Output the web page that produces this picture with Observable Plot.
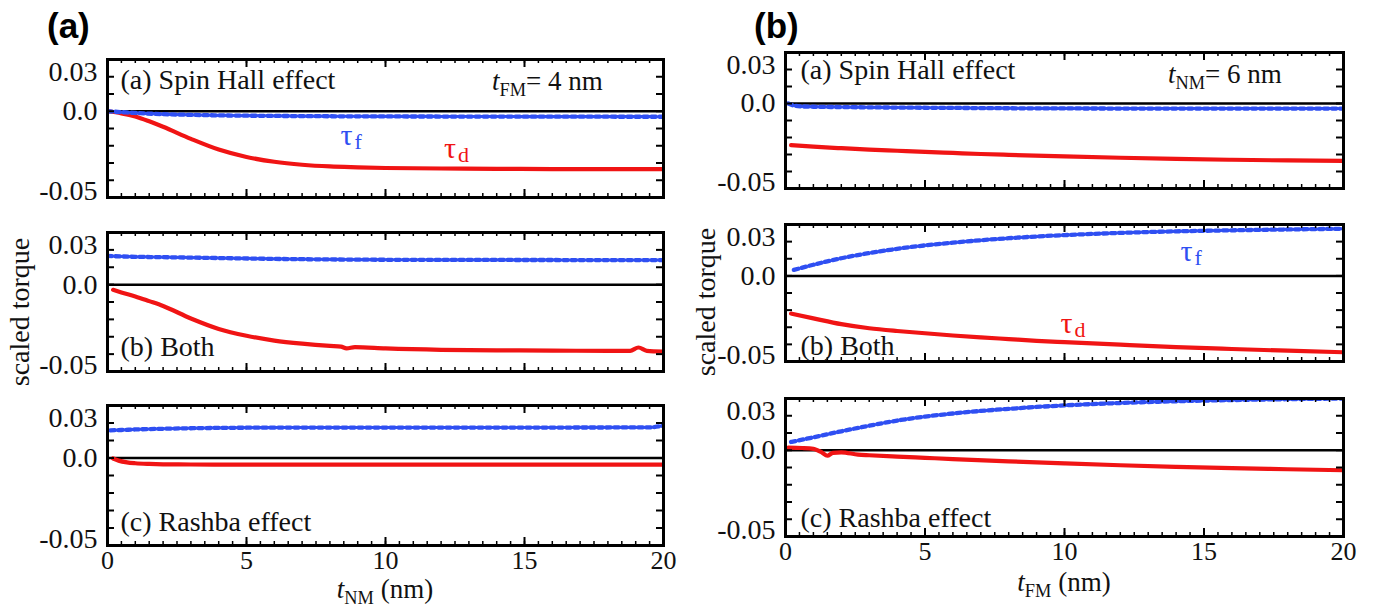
<!DOCTYPE html>
<html><head><meta charset="utf-8">
<script src="https://cdn.jsdelivr.net/npm/d3@7"></script>
<script src="https://cdn.jsdelivr.net/npm/@observablehq/plot@0.6"></script>
<style>
html,body{margin:0;padding:0;background:#fff;}
#root{position:relative;width:1380px;height:612px;overflow:hidden;background:#fff;}
</style></head>
<body><div id="root"></div>
<script>
// ---------------- DATA ----------------
// Panel (a): t_FM = 4 nm, x = t_NM (nm)
const aSheDX = [0,0.5,1,1.5,2,3,4,5,6,7,8,9,10,12,14,16,18,20];
const aSheD  = [0,-0.0012,-0.003,-0.0058,-0.009,-0.016,-0.0222,-0.0265,-0.0293,-0.031,-0.032,-0.0325,-0.0329,-0.0332,-0.0334,-0.0335,-0.0335,-0.0335];
const aSheFX = [0,0.5,1,2,3,4,6,8,10,14,20];
const aSheF  = [0,-0.0005,-0.001,-0.0017,-0.0021,-0.0024,-0.0027,-0.0029,-0.003,-0.0031,-0.0032];

const aBothDX = [0.2,0.5,1,1.5,2,3,4,5,6,7,8,8.4,8.6,8.9,10,12,14,16,18,18.8,19.1,19.4,20];
const aBothD  = [-0.003,-0.0045,-0.0068,-0.0095,-0.0123,-0.0195,-0.0255,-0.0294,-0.0322,-0.0340,-0.0353,-0.0357,-0.0367,-0.0360,-0.0367,-0.0375,-0.0378,-0.0380,-0.0381,-0.0381,-0.0362,-0.0381,-0.0385];
const aBothFX = [0,1,2,4,6,8,10,14,20];
const aBothF  = [0.0165,0.0160,0.0158,0.0153,0.0148,0.0145,0.0143,0.0142,0.0141];

const aRashDX = [0.2,0.4,0.7,1,1.5,2,3,5,8,12,16,20];
const aRashD  = [-0.0003,-0.0015,-0.0025,-0.003,-0.0034,-0.0036,-0.0037,-0.0038,-0.0038,-0.0038,-0.0038,-0.0038];
const aRashFX = [0.1,0.5,1,2,3,5,8,10,15,19.5,20];
const aRashF  = [0.0158,0.0160,0.0163,0.0167,0.0170,0.0173,0.0174,0.0174,0.0174,0.0175,0.0185];

// Panel (b): t_NM = 6 nm, x = t_FM (nm)
const bSheDX = [0.2,1,2,3,4,5,6,7,8,10,12,14,16,18,20];
const bSheD  = [-0.0245,-0.0254,-0.0263,-0.0271,-0.0278,-0.0285,-0.0291,-0.0297,-0.0302,-0.0311,-0.0319,-0.0326,-0.0331,-0.0335,-0.0338];
const bSheFX = [0.1,0.3,0.6,1,2,4,6,8,10,14,20];
const bSheF  = [0,-0.0012,-0.0017,-0.0019,-0.0021,-0.0024,-0.0026,-0.0028,-0.0029,-0.003,-0.003];

const bBothDX = [0.2,1,2,3,4,5,6,7,8,9,10,12,14,16,18,20];
const bBothD  = [-0.022,-0.0248,-0.0282,-0.0306,-0.0322,-0.0335,-0.0348,-0.0359,-0.0369,-0.0379,-0.0387,-0.0402,-0.0416,-0.0427,-0.0437,-0.0446];
const bBothFX = [0.3,1,1.5,2,3,4,5,6,7,8,9,10,12,14,16,18,20];
const bBothF  = [0.0035,0.0065,0.0085,0.0103,0.0133,0.0158,0.0178,0.0194,0.0208,0.022,0.023,0.0238,0.0251,0.026,0.0266,0.0271,0.0275];

const bRashDX = [0.1,0.6,1.0,1.3,1.5,1.7,2.0,2.6,3,4,5,6,8,10,12,14,16,18,20];
const bRashD  = [0.0015,0.0013,0.0008,-0.0012,-0.0032,-0.0015,-0.0012,-0.0025,-0.0029,-0.0037,-0.0044,-0.0051,-0.0064,-0.0076,-0.0087,-0.0096,-0.0104,-0.011,-0.0116];
const bRashFX = [0.2,1,2,3,4,5,6,7,8,9,10,12,14,16,18,20];
const bRashF  = [0.0048,0.0075,0.011,0.0142,0.0172,0.0195,0.0213,0.0228,0.024,0.0251,0.026,0.0274,0.0284,0.0291,0.0296,0.03];

// tick labels and texts
const yTickPos = [0.03, 0, -0.05];
const yTickLabels = ["0.03", "0.0", "-0.05"];
const xTickPos = [0, 5, 10, 15, 20];
const xTickLabels = ["0", "5", "10", "15", "20"];
const subTitles = ["(a) Spin Hall effect", "(b) Both", "(c) Rashba effect"];
const panelTags = ["(a)", "(b)"];
const yTitle = "scaled torque";

// ---------------- STYLE / LAYOUT ----------------
const SERIF = "'Liberation Serif','Times New Roman',serif";
const SANS = "'Liberation Sans',Arial,sans-serif";
const BLUE = "#2f4ff2", RED = "#f01414";
const yGrid = d3.range(-0.05, 0.0301, 0.01);
const xMinor = d3.range(0, 20.01, 0.5);
const xMajor = [0, 5, 10, 15, 20];
const root = document.getElementById("root");

function makeSub(s) {
  const mL = 90, mR = 14, mT = 14, mB = s.xAxis ? 46 : 14;
  const fw = s.right - s.left, fh = s.bottom - s.top;
  const marks = [
    Plot.ruleY([0], {stroke: "#000", strokeWidth: 2.5}),
    Plot.line(s.dY, {x: s.dX, y: s.dY, stroke: RED, strokeWidth: 4.2, curve: "monotone-x", clip: true}),
    Plot.line(s.fY, {x: s.fX, y: s.fY, stroke: BLUE, strokeWidth: 4.3, strokeDasharray: "4.5,3.5", curve: "monotone-x", clip: true}),
    Plot.tickY(yGrid, {y: d => d, insetRight: fw - 7, stroke: "#000", strokeWidth: 2}),
    Plot.tickY(yGrid, {y: d => d, insetLeft: fw - 7, stroke: "#000", strokeWidth: 2}),
    Plot.tickX(xMinor, {x: d => d, insetTop: fh - 4, stroke: "#000", strokeWidth: 1.5}),
    Plot.tickX(xMinor, {x: d => d, insetBottom: fh - 4, stroke: "#000", strokeWidth: 1.5}),
    Plot.tickX(xMajor, {x: d => d, insetTop: fh - 8, stroke: "#000", strokeWidth: 2}),
    Plot.tickX(xMajor, {x: d => d, insetBottom: fh - 8, stroke: "#000", strokeWidth: 2}),
    Plot.frame({stroke: "#000", strokeWidth: 3}),
    Plot.text([s.note], {frameAnchor: s.noteAnchor, dx: s.noteDx, dy: s.noteDy, text: d => d,
      textAnchor: "start", lineAnchor: "middle", fontSize: 28, fill: "#111"})
  ];
  const yOff = [s.topLabDy, 0, -6];
  yTickPos.forEach((v, i) => {
    marks.push(Plot.axisY([v], {anchor: "left", tickSize: 0, tickPadding: 10, dy: yOff[i],
      tickFormat: () => yTickLabels[i], fontSize: 28, label: null}));
  });
  if (s.xAxis) {
    marks.push(Plot.axisX(xTickPos, {anchor: "bottom", tickSize: 0, tickPadding: 5,
      tickFormat: d => xTickLabels[xTickPos.indexOf(d)], fontSize: 26, label: null}));
  }
  for (const t of (s.taus || [])) {
    marks.push(Plot.text([t], {x: "x", y: "y", text: () => "τ", fill: t.color, fontSize: 30,
      textAnchor: "start", lineAnchor: "middle"}));
    marks.push(Plot.text([t], {x: "x", y: "y", text: d => d.sub, fill: t.color, fontSize: 22,
      textAnchor: "start", lineAnchor: "middle", dx: 14, dy: 7}));
  }
  const svg = Plot.plot({
    width: fw + mL + mR, height: fh + mT + mB,
    marginLeft: mL, marginRight: mR, marginTop: mT, marginBottom: mB,
    x: {domain: [0, 20], axis: null},
    y: {domain: [-0.05, 0.03], axis: null},
    style: {fontFamily: SERIF, fontSize: "28px", color: "#111", background: "transparent", overflow: "visible"},
    marks
  });
  svg.style.position = "absolute";
  svg.style.left = (s.left - mL) + "px";
  svg.style.top = (s.top - mT) + "px";
  root.appendChild(svg);
}

const A = {left: 107, right: 663};
const B = {left: 785, right: 1343};

makeSub({...A, top: 59, bottom: 197, dX: aSheDX, dY: aSheD, fX: aSheFX, fY: aSheF,
  note: subTitles[0], noteAnchor: "top-left", noteDx: 13, noteDy: 21, topLabDy: 13,
  taus: [{x: 8.38, y: -0.0138, sub: "f", color: BLUE}, {x: 12.1, y: -0.0215, sub: "d", color: RED}]});
makeSub({...A, top: 232, bottom: 371, dX: aBothDX, dY: aBothD, fX: aBothFX, fY: aBothF,
  note: subTitles[1], noteAnchor: "bottom-left", noteDx: 13, noteDy: -24, topLabDy: 13});
makeSub({...A, top: 405, bottom: 545, dX: aRashDX, dY: aRashD, fX: aRashFX, fY: aRashF,
  note: subTitles[2], noteAnchor: "bottom-left", noteDx: 13, noteDy: -23, topLabDy: 13, xAxis: true});

makeSub({...B, top: 52, bottom: 188, dX: bSheDX, dY: bSheD, fX: bSheFX, fY: bSheF,
  note: subTitles[0], noteAnchor: "top-left", noteDx: 15, noteDy: 18, topLabDy: 13});
makeSub({...B, top: 224, bottom: 361, dX: bBothDX, dY: bBothD, fX: bBothFX, fY: bBothF,
  note: subTitles[1], noteAnchor: "bottom-left", noteDx: 15, noteDy: -15, topLabDy: 13,
  taus: [{x: 14.16, y: 0.0145, sub: "f", color: BLUE}, {x: 9.86, y: -0.0275, sub: "d", color: RED}]});
makeSub({...B, top: 398, bottom: 536, dX: bRashDX, dY: bRashD, fX: bRashFX, fY: bRashF,
  note: subTitles[2], noteAnchor: "bottom-left", noteDx: 15, noteDy: -18, topLabDy: 13, xAxis: true});

// ---------------- overlay texts (titles, axis titles) ----------------
const ov = d3.create("svg").attr("width", 1380).attr("height", 612)
  .style("position", "absolute").style("left", "0px").style("top", "0px").style("pointer-events", "none");
ov.append("text").attr("x", 47).attr("y", 38).attr("font-family", SANS).attr("font-weight", "bold")
  .attr("font-size", 35).text(panelTags[0]);
ov.append("text").attr("x", 754).attr("y", 38).attr("font-family", SANS).attr("font-weight", "bold")
  .attr("font-size", 35).text(panelTags[1]);
[[19, 312], [705, 302]].forEach(([cx, cy]) => {
  ov.append("text").attr("transform", `translate(${cx},${cy}) rotate(-90)`).attr("text-anchor", "middle")
    .attr("dominant-baseline", "central").attr("font-family", SERIF).attr("font-size", 28).attr("fill", "#111").text(yTitle);
});
function richText(x, y, anchor, main, sub, rest, size) {
  const t = ov.append("text").attr("x", x).attr("y", y).attr("text-anchor", anchor)
    .attr("font-family", SERIF).attr("font-size", size).attr("fill", "#111");
  t.append("tspan").attr("font-style", "italic").text(main);
  t.append("tspan").attr("font-size", size * 0.68).attr("dy", 6).text(sub);
  t.append("tspan").attr("dy", -6).text(rest);
}
richText(385, 598, "middle", "t", "NM", " (nm)", 27);
richText(1064, 591, "middle", "t", "FM", " (nm)", 27);
richText(492, 90, "start", "t", "FM", "= 4 nm", 27);
richText(1168, 83, "start", "t", "NM", "= 6 nm", 27);
root.appendChild(ov.node());
</script>
</body></html>
